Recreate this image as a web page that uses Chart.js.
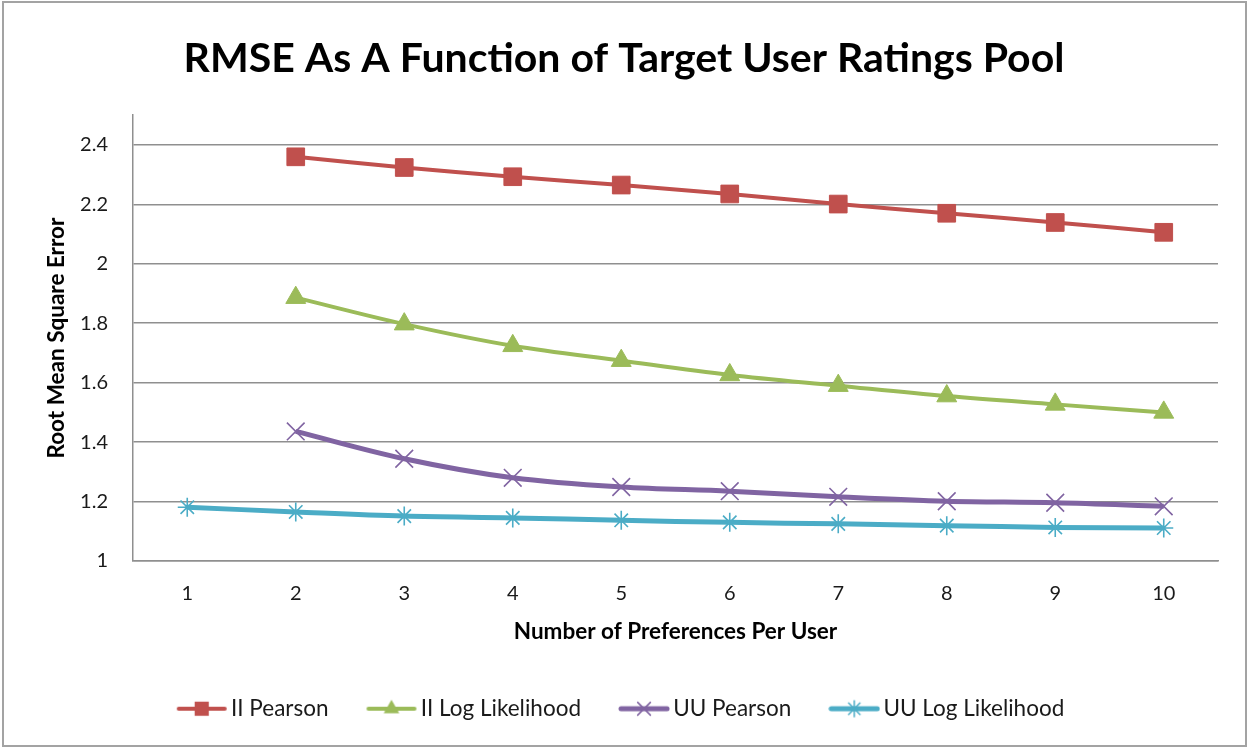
<!DOCTYPE html>
<html><head><meta charset="utf-8">
<script src="https://cdn.jsdelivr.net/npm/chart.js@4.4.0/dist/chart.umd.min.js"></script>
<style>html,body{margin:0;padding:0;background:#fff;}#wrap{width:1249px;height:748px;}</style>
</head><body><div id="wrap"><canvas id="c" width="1249" height="748"></canvas></div>
<script>
const categories = ['1','2','3','4','5','6','7','8','9','10'];
const iiPearson       = [null, 2.360, 2.324, 2.293, 2.265, 2.235, 2.201, 2.170, 2.139, 2.106];
const iiLogLikelihood = [null, 1.886, 1.797, 1.724, 1.674, 1.626, 1.590, 1.555, 1.527, 1.500];
const uuPearson       = [null, 1.436, 1.344, 1.280, 1.249, 1.235, 1.216, 1.201, 1.196, 1.184];
const uuLogLikelihood = [1.181, 1.165, 1.151, 1.145, 1.137, 1.130, 1.125, 1.119, 1.113, 1.111];
const yTicks = [1, 1.2, 1.4, 1.6, 1.8, 2, 2.2, 2.4];
const seriesNames = ['II Pearson', 'II Log Likelihood', 'UU Pearson', 'UU Log Likelihood'];
const chartTitle = 'RMSE As A Function of Target User Ratings Pool';
const xTitle = 'Number of Preferences Per User';
const yTitle = 'Root Mean Square Error';

const FONT = 'Lato, "Open Sans", sans-serif';
const colors = ['#C0504D', '#9BBB59', '#8064A2', '#4BACC6'];

function drawMarker(g, style, x, y, r, color) {
  g.save();
  g.fillStyle = color; g.strokeStyle = color;
  g.beginPath();
  if (style === 'rect') {
    const s = r * Math.SQRT1_2; g.rect(x - s, y - s, 2 * s, 2 * s); g.fill();
  } else if (style === 'triangle') {
    g.moveTo(x, y - r);
    g.lineTo(x + r * Math.sin(Math.PI / 3), y + r / 2);
    g.lineTo(x - r * Math.sin(Math.PI / 3), y + r / 2);
    g.closePath(); g.fill();
  } else if (style === 'crossRot') {
    g.lineWidth = 1.5; const s = r * Math.SQRT1_2;
    g.moveTo(x - s, y - s); g.lineTo(x + s, y + s);
    g.moveTo(x - s, y + s); g.lineTo(x + s, y - s); g.stroke();
  } else if (style === 'star') {
    g.lineWidth = 1.5; const s = r * Math.SQRT1_2;
    g.moveTo(x - s, y - s); g.lineTo(x + s, y + s);
    g.moveTo(x - s, y + s); g.lineTo(x + s, y - s);
    g.moveTo(x, y - r); g.lineTo(x, y + r); g.stroke();
  }
  g.restore();
}
function legendIcon(color, style, lw, r) {
  const c = document.createElement('canvas');
  c.width = 52; c.height = 24;
  const g = c.getContext('2d');
  g.strokeStyle = color; g.lineWidth = lw; g.lineCap = 'round';
  g.beginPath(); g.moveTo(3, 12); g.lineTo(49, 12); g.stroke();
  drawMarker(g, style, 26, 12, r, color);
  return c;
}
const styles = ['rect', 'triangle', 'crossRot', 'star'];
const lineWidths = [4, 4, 5, 5];
const pointRadii = [12.5, 11.5, 12.5, 9.5];
const legendRadii = [10, 9, 9, 8];
const icons = styles.map((s, i) => legendIcon(colors[i], s, lineWidths[i], legendRadii[i]));

const seriesValues = [iiPearson, iiLogLikelihood, uuPearson, uuLogLikelihood];
const datasets = seriesValues.map((vals, i) => ({
  label: seriesNames[i],
  data: vals,
  borderColor: colors[i],
  backgroundColor: colors[i],
  borderWidth: lineWidths[i],
  tension: 0.35,
  pointStyle: styles[i],
  pointRadius: pointRadii[i],
  pointHoverRadius: pointRadii[i],
  pointBackgroundColor: colors[i],
  pointBorderColor: colors[i],
  pointBorderWidth: (styles[i] === 'crossRot' || styles[i] === 'star') ? 1.6 : 1,
  spanGaps: false
}));

const framePlugin = {
  id: 'frame',
  beforeDraw(chart) {
    const g = chart.ctx;
    g.save();
    g.fillStyle = '#fff'; g.fillRect(0, 0, chart.width, chart.height);
    g.strokeStyle = '#a3a3a3'; g.lineWidth = 2;
    g.strokeRect(3, 2, 1243, 744);
    g.restore();
  }
};

new Chart(document.getElementById('c'), {
  type: 'line',
  data: { labels: categories, datasets },
  plugins: [framePlugin],
  options: {
    responsive: false,
    devicePixelRatio: 1,
    animation: false,
    layout: { padding: { left: 30, right: 31, top: 0, bottom: 18 } },
    plugins: {
      tooltip: { enabled: false },
      title: {
        display: true, text: chartTitle, color: '#000',
        font: { family: FONT, size: 41, weight: 'bold', lineHeight: 1.2 },
        padding: { top: 34, bottom: 32 }
      },
      legend: {
        position: 'bottom',
        labels: {
          usePointStyle: true,
          pointStyleWidth: 36,
          boxHeight: 22,
          padding: 45,
          color: '#1a1a1a',
          font: { family: FONT, size: 22.5 },
          generateLabels: (chart) => chart.data.datasets.map((ds, i) => ({
            text: ds.label, pointStyle: icons[i], fillStyle: ds.borderColor,
            strokeStyle: ds.borderColor, lineWidth: 0, hidden: false, datasetIndex: i,
            fontColor: '#1a1a1a'
          }))
        }
      }
    },
    scales: {
      x: {
        offset: true,
        grid: { display: false, drawTicks: false },
        border: { display: true, color: '#8f8f8f', width: 1.5 },
        ticks: { color: '#1a1a1a', padding: 21, font: { family: FONT, size: 20 } },
        title: {
          display: true, text: xTitle, color: '#000',
          font: { family: FONT, size: 22.5, weight: 'bold', lineHeight: 1.2 },
          padding: { top: 0, bottom: 7 }
        },
        afterFit(scale) { scale.height = 91.5; }
      },
      y: {
        min: 1, max: 2.5,
        afterBuildTicks(scale) { scale.ticks = yTicks.map(v => ({ value: v })); },
        grid: { color: '#8f8f8f', lineWidth: 1.5, drawTicks: false },
        border: { display: true, color: '#8f8f8f', width: 1.5 },
        ticks: {
          color: '#1a1a1a', padding: 25, font: { family: FONT, size: 20 },
          callback: (v) => String(Math.round(v * 10) / 10)
        },
        title: {
          display: true, text: yTitle, color: '#000',
          font: { family: FONT, size: 22.5, weight: 'bold', lineHeight: 1.2 },
          padding: { top: 13, bottom: 0 }
        },
        afterFit(scale) { scale.width = 103; }
      }
    }
  }
});
</script>
</body></html>
